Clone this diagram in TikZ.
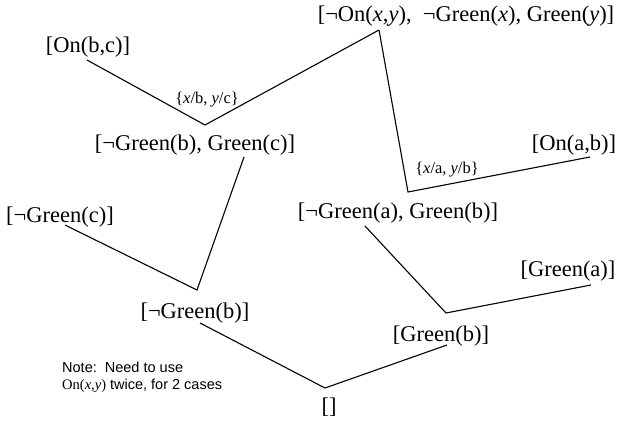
\documentclass[tikz,border=0pt]{standalone}
\usepackage{fontspec}
\setmainfont{Liberation Serif}
\newfontfamily\notefont{Liberation Sans}
\begin{document}
\begin{tikzpicture}[x=1pt,y=-1pt,
  clause/.style={inner sep=0pt,font=\fontsize{22.5}{26}\selectfont},
  subst/.style={inner sep=0pt,font=\fontsize{16.5}{19}\selectfont},
  note/.style={inner sep=0pt,align=left,anchor=west,font=\notefont\fontsize{14.5}{17}\selectfont},
  edge/.style={line width=1.1pt,line join=miter}]
\useasboundingbox (0,0) rectangle (629,424);
% clauses
\node[clause] (onbc) at (88,47) {[On(b,c)]};
\node[clause] (top) at (466,16) {[¬On(\textit{x},\textit{y}),\ \ ¬Green(\textit{x}), Green(\textit{y})]};
\node[clause] (onab) at (574,145) {[On(a,b)]};
\node[clause] (gbgc) at (195,145) {[¬Green(b), Green(c)]};
\node[clause] (ngc) at (60,217) {[¬Green(c)]};
\node[clause] (gagb) at (398,213) {[¬Green(a), Green(b)]};
\node[clause] (ga) at (568,271) {[Green(a)]};
\node[clause] (ngb) at (195,313) {[¬Green(b)]};
\node[clause] (gb) at (441,336) {[Green(b)]};
\node[clause] (empty) at (329,407) {[]};
% substitutions
\node[subst] (s1) at (207,100) {\{\textit{x}/b, \textit{y}/c\}};
\node[subst] (s2) at (447,170) {\{\textit{x}/a, \textit{y}/b\}};
% note
\node[note] (note) at (62,377) {Note:\ \ Need to use\\{\rmfamily On(\textit{x},\textit{y})} twice, for 2 cases};
% connector points
\coordinate (p-onbc) at (87,60);
\coordinate (v1) at (205,125);
\coordinate (p-top) at (379,30);
\coordinate (v2) at (408,192);
\coordinate (p-onab) at (590,157);
\coordinate (p-gbgc) at (244,157);
\coordinate (v3) at (197,290);
\coordinate (p-ngc) at (65,225);
\coordinate (p-gagb) at (365,226);
\coordinate (v4) at (446,313);
\coordinate (p-ga) at (591,285);
\coordinate (p-ngb) at (200,323);
\coordinate (v5) at (325,388);
\coordinate (p-gb) at (447,345);
% connectors
\draw[edge] (p-onbc) -- (v1) -- (p-top);
\draw[edge] (p-top) -- (v2) -- (p-onab);
\draw[edge] (p-gbgc) -- (v3) -- (p-ngc);
\draw[edge] (p-gagb) -- (v4) -- (p-ga);
\draw[edge] (p-ngb) -- (v5) -- (p-gb);
\end{tikzpicture}
\end{document}
